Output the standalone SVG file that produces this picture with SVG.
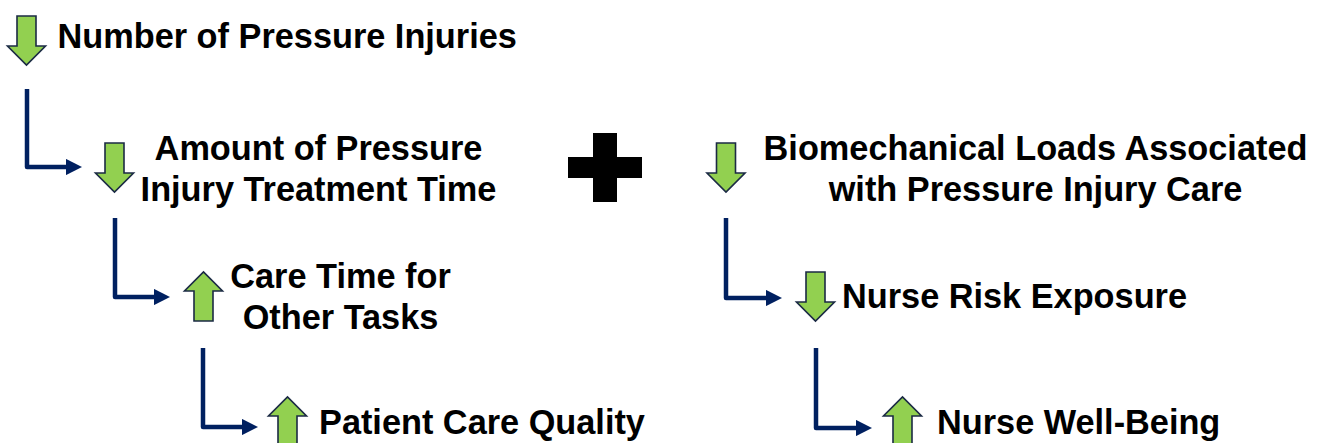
<svg xmlns="http://www.w3.org/2000/svg" width="1320" height="443" viewBox="0 0 1320 443">
<style>
  .t { font-family: "Liberation Sans", Arial, sans-serif; font-weight: bold; font-size: 34.3px; fill: #000; }
  .c { text-anchor: middle; }
  .ar { fill: #92D050; stroke: #1B2A44; stroke-width: 1.6; stroke-linejoin: miter; }
  .conn { fill: none; stroke: #002060; stroke-width: 4.5; stroke-linejoin: round; }
</style>
<defs>
  <marker id="ah" viewBox="0 0 10 10" refX="0" refY="5" markerWidth="3.6" markerHeight="3.6" orient="auto" markerUnits="strokeWidth">
    <path d="M0,0 L10,5 L0,10 Z" fill="#002060"/>
  </marker>
  <path id="down" d="M-9.5,0 H9.5 V30 H19 L0,49 L-19,30 H-9.5 Z"/>
  <path id="up" d="M-9.5,49 H9.5 V19 H19 L0,0 L-19,19 H-9.5 Z"/>
</defs>
<rect width="1320" height="443" fill="#fff"/>

<g id="connectors">
  <path class="conn" d="M27,89 V167 H66" marker-end="url(#ah)"/>
  <path class="conn" d="M115,218 V297 H154" marker-end="url(#ah)"/>
  <path class="conn" d="M203,348 V427 H242" marker-end="url(#ah)"/>
  <path class="conn" d="M726,218 V298 H766" marker-end="url(#ah)"/>
  <path class="conn" d="M816,348 V428 H856" marker-end="url(#ah)"/>
</g>

<g id="node-pressure-injuries">
  <use href="#down" class="ar" x="26.5" y="16"/>
  <text class="t" x="57.5" y="48">Number of Pressure Injuries</text>
</g>

<g id="node-treatment-time">
  <use href="#down" class="ar" x="114.5" y="143"/>
  <text class="t c" x="318.5" y="159.5">Amount of Pressure</text>
  <text class="t c" x="318.5" y="200.5">Injury Treatment Time</text>
</g>

<g id="node-care-time">
  <use href="#up" class="ar" x="203.5" y="272"/>
  <text class="t c" x="340.5" y="288">Care Time for</text>
  <text class="t c" x="340.5" y="329">Other Tasks</text>
</g>

<g id="node-care-quality">
  <use href="#up" class="ar" x="287.5" y="397"/>
  <text class="t" x="319" y="434">Patient Care Quality</text>
</g>

<g id="plus">
  <path d="M593,133 H617 V157 H642 V178 H617 V202 H593 V178 H568 V157 H593 Z" fill="#000"/>
</g>

<g id="node-biomechanical">
  <use href="#down" class="ar" x="726" y="143"/>
  <text class="t c" x="1035.5" y="159.5">Biomechanical Loads Associated</text>
  <text class="t c" x="1035.5" y="200.5">with Pressure Injury Care</text>
</g>

<g id="node-risk-exposure">
  <use href="#down" class="ar" x="815.5" y="272"/>
  <text class="t" x="842" y="308">Nurse Risk Exposure</text>
</g>

<g id="node-well-being">
  <use href="#up" class="ar" x="902.5" y="397"/>
  <text class="t" x="937" y="434">Nurse Well-Being</text>
</g>
</svg>
